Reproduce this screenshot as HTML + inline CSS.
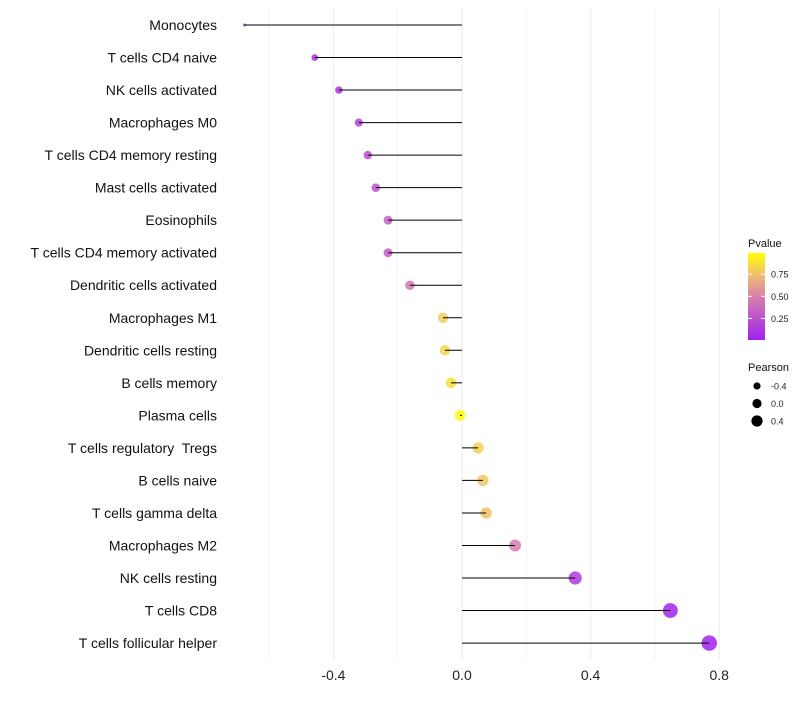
<!DOCTYPE html>
<html><head><meta charset="utf-8"><style>
body{margin:0;background:#fff;font-family:"Liberation Sans",sans-serif}
text{white-space:pre}
</style></head><body>
<svg id="c" width="800" height="700"></svg>
<script>
const categories=["Monocytes","T cells CD4 naive","NK cells activated","Macrophages M0","T cells CD4 memory resting","Mast cells activated","Eosinophils","T cells CD4 memory activated","Dendritic cells activated","Macrophages M1","Dendritic cells resting","B cells memory","Plasma cells","T cells regulatory  Tregs","B cells naive","T cells gamma delta","Macrophages M2","NK cells resting","T cells CD8","T cells follicular helper"];
const pearson=[-0.676,-0.458,-0.383,-0.321,-0.293,-0.268,-0.230,-0.230,-0.162,-0.059,-0.053,-0.034,-0.006,0.05,0.065,0.075,0.165,0.352,0.648,0.769];
const pvalue=[0.01,0.05,0.1,0.17,0.22,0.26,0.32,0.32,0.45,0.8,0.83,0.88,0.99,0.82,0.78,0.76,0.47,0.13,0.02,0.01];
const xTicks=[-0.4,0.0,0.4,0.8];
const xTickLabels=["-0.4","0.0","0.4","0.8"];
const xMinor=[-0.6,-0.2,0.2,0.6];
const legendP=[0.25,0.5,0.75];
const legendPLabels=["0.25","0.50","0.75"];
const legendS=[-0.4,0.0,0.4];
const legendSLabels=["-0.4","0.0","0.4"];

const svg=document.getElementById('c');const NS='http://www.w3.org/2000/svg';
function mk(t,a,p){const e=document.createElementNS(NS,t);for(const k in a)e.setAttribute(k,a[k]);(p||svg).appendChild(e);return e;}
const x=v=>462+v*321.5;
const y=i=>25+i*32.53;
const r=v=>Math.sqrt(Math.max(0.5,2.25+40*(v+0.676)));
const stops=[[0,[160,32,240]],[0.5,[214,130,170]],[0.75,[240,190,110]],[1,[255,255,0]]];
function col(p){for(let k=1;k<stops.length;k++){if(p<=stops[k][0]||k==stops.length-1){const [p0,a]=stops[k-1],[p1,b]=stops[k];const t=Math.min(1,Math.max(0,(p-p0)/(p1-p0)));return 'rgb('+a.map((c,i)=>Math.round(c+(b[i]-c)*t)).join(',')+')';}}}
const pY=p=>340-(p-0.006)/(0.99-0.006)*87;

xMinor.forEach(v=>{const l=mk('line',{x1:x(v),x2:x(v),y1:8,y2:660,stroke:'#f0f0f0','stroke-width':0.8});});
xTicks.forEach((v,i)=>{const l=mk('line',{x1:x(v),x2:x(v),y1:8,y2:660,stroke:'#ebebeb','stroke-width':1});
const t=mk('text',{x:x(v),y:680,'text-anchor':'middle','font-size':14,fill:'#222'});t.textContent=xTickLabels[i];});
categories.forEach((c,i)=>{
const t=mk('text',{x:217,y:y(i)+5,'text-anchor':'end','font-size':14,fill:'#111'});t.textContent=c;
const d=mk('circle',{cx:x(pearson[i]),cy:y(i),r:r(pearson[i]),fill:col(pvalue[i]),'fill-opacity':0.85});
const l=mk('line',{x1:x(0),x2:x(pearson[i]),y1:y(i),y2:y(i),stroke:'#000','stroke-width':1});
});
// legend
const t1=mk('text',{x:748,y:247,'font-size':11,fill:'#111'});t1.textContent='Pvalue';
const defs=mk('defs',{});const g=mk('linearGradient',{id:'gr',x1:0,y1:1,x2:0,y2:0},defs);
[0,0.25,0.5,0.75,1].forEach(p=>mk('stop',{offset:(p*100)+'%','stop-color':col(p)},g));
const bar=mk('rect',{x:748,y:253,width:17,height:87,fill:'url(#gr)'});
legendP.forEach((p,i)=>{mk('line',{x1:748,x2:752,y1:pY(p),y2:pY(p),stroke:'#fff'});mk('line',{x1:761,x2:765,y1:pY(p),y2:pY(p),stroke:'#fff'});
const t=mk('text',{x:771,y:pY(p)+3.5,'font-size':9,fill:'#222'});t.textContent=legendPLabels[i];});
const t2=mk('text',{x:748,y:371,'font-size':11,fill:'#111'});t2.textContent='Pearson';
legendS.forEach((v,i)=>{const cy=386+i*17.5;const c=mk('circle',{cx:757,cy:cy,r:[3.6,4.6,5.6][i],fill:'#000'});
const t=mk('text',{x:771,y:cy+3.5,'font-size':9,fill:'#222'});t.textContent=legendSLabels[i];});
</script>
</body></html>
